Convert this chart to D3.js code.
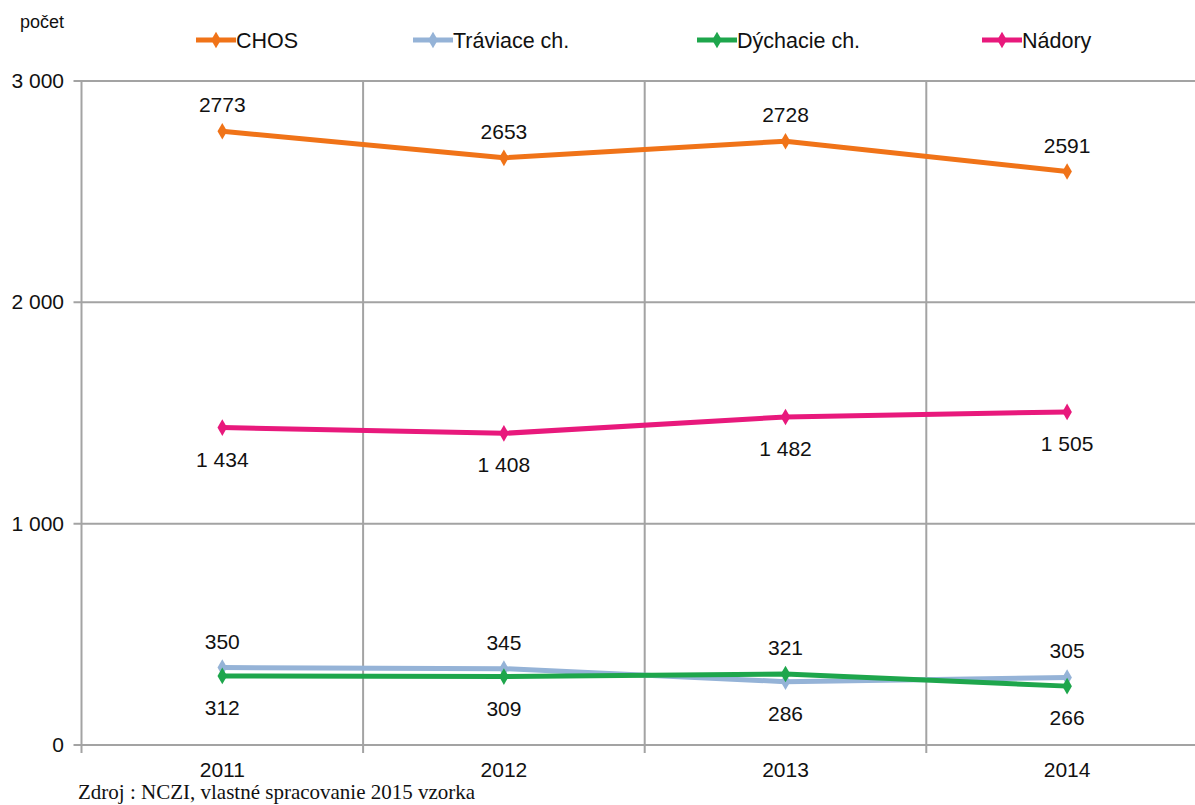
<!DOCTYPE html>
<html>
<head>
<meta charset="utf-8">
<script src="https://cdn.jsdelivr.net/npm/d3@7"></script>
<style>
  html, body { margin: 0; padding: 0; background: #fff; }
  svg { display: block; }
  text { font-family: "Liberation Sans", Arial, sans-serif; fill: #111; }
</style>
</head>
<body>
<svg id="chart" width="1195" height="805"></svg>
<script>
// Categories and series values
const years = ["2011", "2012", "2013", "2014"];
const chos = [2773, 2653, 2728, 2591];
const traviace = [350, 345, 286, 305];
const dychacie = [312, 309, 321, 266];
const nadory = [1434, 1408, 1482, 1505];
const yTicks = [0, 1000, 2000, 3000];

// Label placement per point: "above" or "below"
const chosPos = ["above", "above", "above", "above"];
const traviacePos = ["above", "above", "below", "above"];
const dychaciePos = ["below", "below", "above", "below"];
const nadoryPos = ["below", "below", "below", "below"];

const spaced = v => d3.format(",")(v).replace(/,/g, " ");
const plain = v => String(v);

const series = [
  { name: "CHOS", values: chos, color: "#f07318", pos: chosPos, fmt: plain },
  { name: "Tráviace ch.", values: traviace, color: "#95b3d7", pos: traviacePos, fmt: plain },
  { name: "Dýchacie ch.", values: dychacie, color: "#1ea64c", pos: dychaciePos, fmt: plain },
  { name: "Nádory", values: nadory, color: "#e8197c", pos: nadoryPos, fmt: spaced }
];

const svg = d3.select("#chart");
const plotLeft = 81.5, band = 281.6, plotTop = 81, plotBottom = 745;
const fs = 21;

const x = d3.scaleBand().domain(years).range([plotLeft, plotLeft + band * years.length]).paddingInner(0).paddingOuter(0);
const y = d3.scaleLinear().domain([0, 3000]).range([plotBottom, plotTop]);

const grid = svg.append("g");
// horizontal gridlines
grid.selectAll("line.h").data(yTicks).join("line")
  .attr("x1", plotLeft - 8).attr("x2", 1195)
  .attr("y1", d => y(d)).attr("y2", d => y(d))
  .attr("stroke", "#a3a3a3").attr("stroke-width", 2);
// vertical gridlines at category boundaries
const bounds = years.map(yr => x(yr));
grid.selectAll("line.v").data(bounds).join("line")
  .attr("x1", d => d).attr("x2", d => d)
  .attr("y1", plotTop).attr("y2", plotBottom + 8)
  .attr("stroke", "#a3a3a3").attr("stroke-width", 2);

// y axis labels
svg.append("g").selectAll("text").data(yTicks).join("text")
  .attr("x", 64).attr("y", d => y(d) + 7)
  .attr("text-anchor", "end").attr("font-size", fs)
  .text(d => spaced(d));

// x axis labels
svg.append("g").selectAll("text").data(years).join("text")
  .attr("x", d => x(d) + x.bandwidth() / 2).attr("y", 777)
  .attr("text-anchor", "middle").attr("font-size", fs)
  .text(d => d);

const cx = yr => x(yr) + x.bandwidth() / 2;
const line = d3.line().x((d, i) => cx(years[i])).y(d => y(d));
const diamond = d3.symbol().type(d3.symbolDiamond).size(80);

series.forEach(s => {
  const g = svg.append("g");
  g.append("path").datum(s.values)
    .attr("d", line).attr("fill", "none")
    .attr("stroke", s.color).attr("stroke-width", 5).attr("stroke-linejoin", "round");
  g.selectAll("path.m").data(s.values).join("path")
    .attr("transform", (d, i) => `translate(${cx(years[i])},${y(d)})`)
    .attr("d", diamond).attr("fill", s.color);
  g.selectAll("text").data(s.values).join("text")
    .attr("x", (d, i) => cx(years[i]))
    .attr("y", (d, i) => s.pos[i] === "above" ? y(d) - 19 : y(d) + 39)
    .attr("text-anchor", "middle").attr("font-size", fs)
    .text(d => s.fmt(d));
});

// legend
const legendX = [196, 413, 697, 982];
const lg = svg.append("g");
series.forEach((s, i) => {
  const lx = legendX[i];
  lg.append("line").attr("x1", lx).attr("x2", lx + 40).attr("y1", 40).attr("y2", 40)
    .attr("stroke", s.color).attr("stroke-width", 5);
  lg.append("path").attr("transform", `translate(${lx + 20},40)`).attr("d", diamond).attr("fill", s.color);
  lg.append("text").attr("x", lx + 40).attr("y", 48).attr("font-size", 21.5).text(s.name);
});

// y axis title
svg.append("text").attr("x", 20).attr("y", 28).attr("font-size", 18).text("počet");

// source note
svg.append("text").attr("x", 78).attr("y", 799)
  .style("font-family", "'Liberation Serif', 'DejaVu Serif', serif")
  .attr("font-size", 21).text("Zdroj : NCZI, vlastné spracovanie 2015 vzorka");
</script>
</body>
</html>
